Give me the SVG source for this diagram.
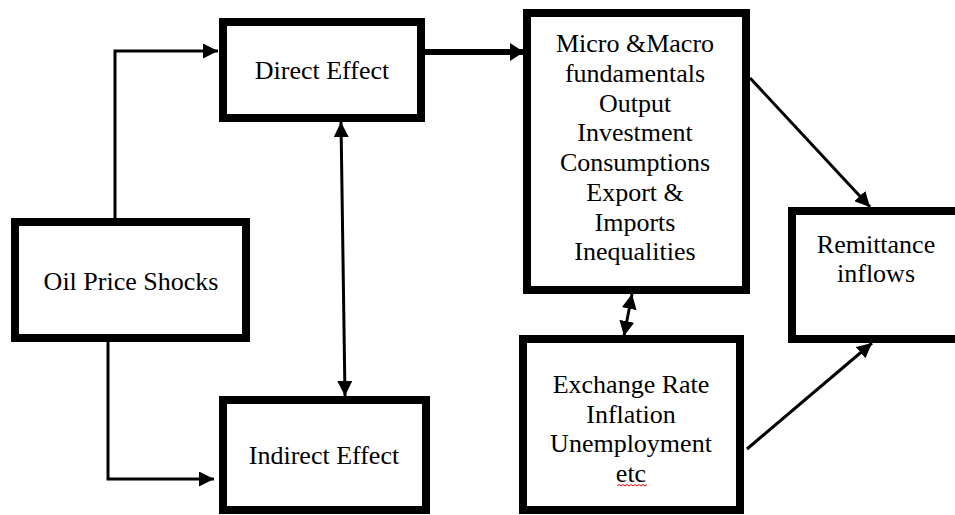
<svg xmlns="http://www.w3.org/2000/svg" width="955" height="515" viewBox="0 0 955 515">
<style>
.box{fill:#fff;stroke:#000;stroke-width:8}
.t{font-family:'Liberation Serif','Times New Roman',serif;font-size:26px;fill:#000;text-anchor:middle}
.c{fill:none;stroke:#000;stroke-width:3}
.ck{fill:none;stroke:#000;stroke-width:6}
</style>
<defs>
<marker id="ah" markerUnits="userSpaceOnUse" markerWidth="15" markerHeight="15" refX="15" refY="7.5" orient="auto-start-reverse" viewBox="0 0 15 15">
<path d="M0,0 L15,7.5 L0,15 z" fill="#000"/>
</marker>
<marker id="ahk" markerUnits="userSpaceOnUse" markerWidth="14" markerHeight="18" refX="14" refY="9" orient="auto" viewBox="0 0 14 18">
<path d="M0,0 L14,9 L0,18 z" fill="#000"/>
</marker>
</defs>
<rect width="955" height="515" fill="#fff"/>
<g id="connectors">
<path class="c" d="M115 222 V51 H218" marker-end="url(#ah)"/>
<path class="c" d="M108 338 V479 H214" marker-end="url(#ah)"/>
<path class="c" d="M341 122 L345 396" marker-start="url(#ah)" marker-end="url(#ah)"/>
<path class="ck" d="M425 52 H524" marker-end="url(#ahk)"/>
<path class="c" d="M632 294 L624 336" marker-start="url(#ah)" marker-end="url(#ah)"/>
<path class="c" d="M750 78 L870 207" marker-end="url(#ah)"/>
<path class="c" d="M747 449 L872 343" marker-end="url(#ah)"/>
</g>
<g id="direct">
<rect class="box" x="223" y="22" width="198" height="96"/>
<text class="t" x="322" y="79">Direct Effect</text>
</g>
<g id="oil">
<rect class="box" x="15" y="222" width="231" height="116"/>
<text class="t" x="131" y="290">Oil Price Shocks</text>
</g>
<g id="indirect">
<rect class="box" x="223" y="400" width="203" height="110"/>
<text class="t" x="324" y="464">Indirect Effect</text>
</g>
<g id="micro">
<rect class="box" x="527" y="13" width="219" height="277"/>
<text class="t" x="635" y="52">Micro &amp;Macro</text>
<text class="t" x="635" y="81.75">fundamentals</text>
<text class="t" x="635" y="111.5">Output</text>
<text class="t" x="635" y="141.25">Investment</text>
<text class="t" x="635" y="171">Consumptions</text>
<text class="t" x="635" y="200.75">Export &amp;</text>
<text class="t" x="635" y="230.5">Imports</text>
<text class="t" x="635" y="260.25">Inequalities</text>
</g>
<g id="exchange">
<rect class="box" x="523" y="339" width="217" height="171"/>
<text class="t" x="631" y="393">Exchange Rate</text>
<text class="t" x="631" y="423">Inflation</text>
<text class="t" x="631" y="452">Unemployment</text>
<text class="t" x="631" y="482">etc</text>
<path d="M617 486 l2 -1.5 l2 1.5 l2 -1.5 l2 1.5 l2 -1.5 l2 1.5 l2 -1.5 l2 1.5 l2 -1.5 l2 1.5 l2 -1.5 l2 1.5 l2 -1.5 l2 1.5 l2 -1.5" fill="none" stroke="#e00" stroke-width="1"/>
</g>
<g id="remittance">
<rect class="box" x="792" y="211" width="172" height="128"/>
<text class="t" x="876" y="253">Remittance</text>
<text class="t" x="876" y="282">inflows</text>
</g>
</svg>
